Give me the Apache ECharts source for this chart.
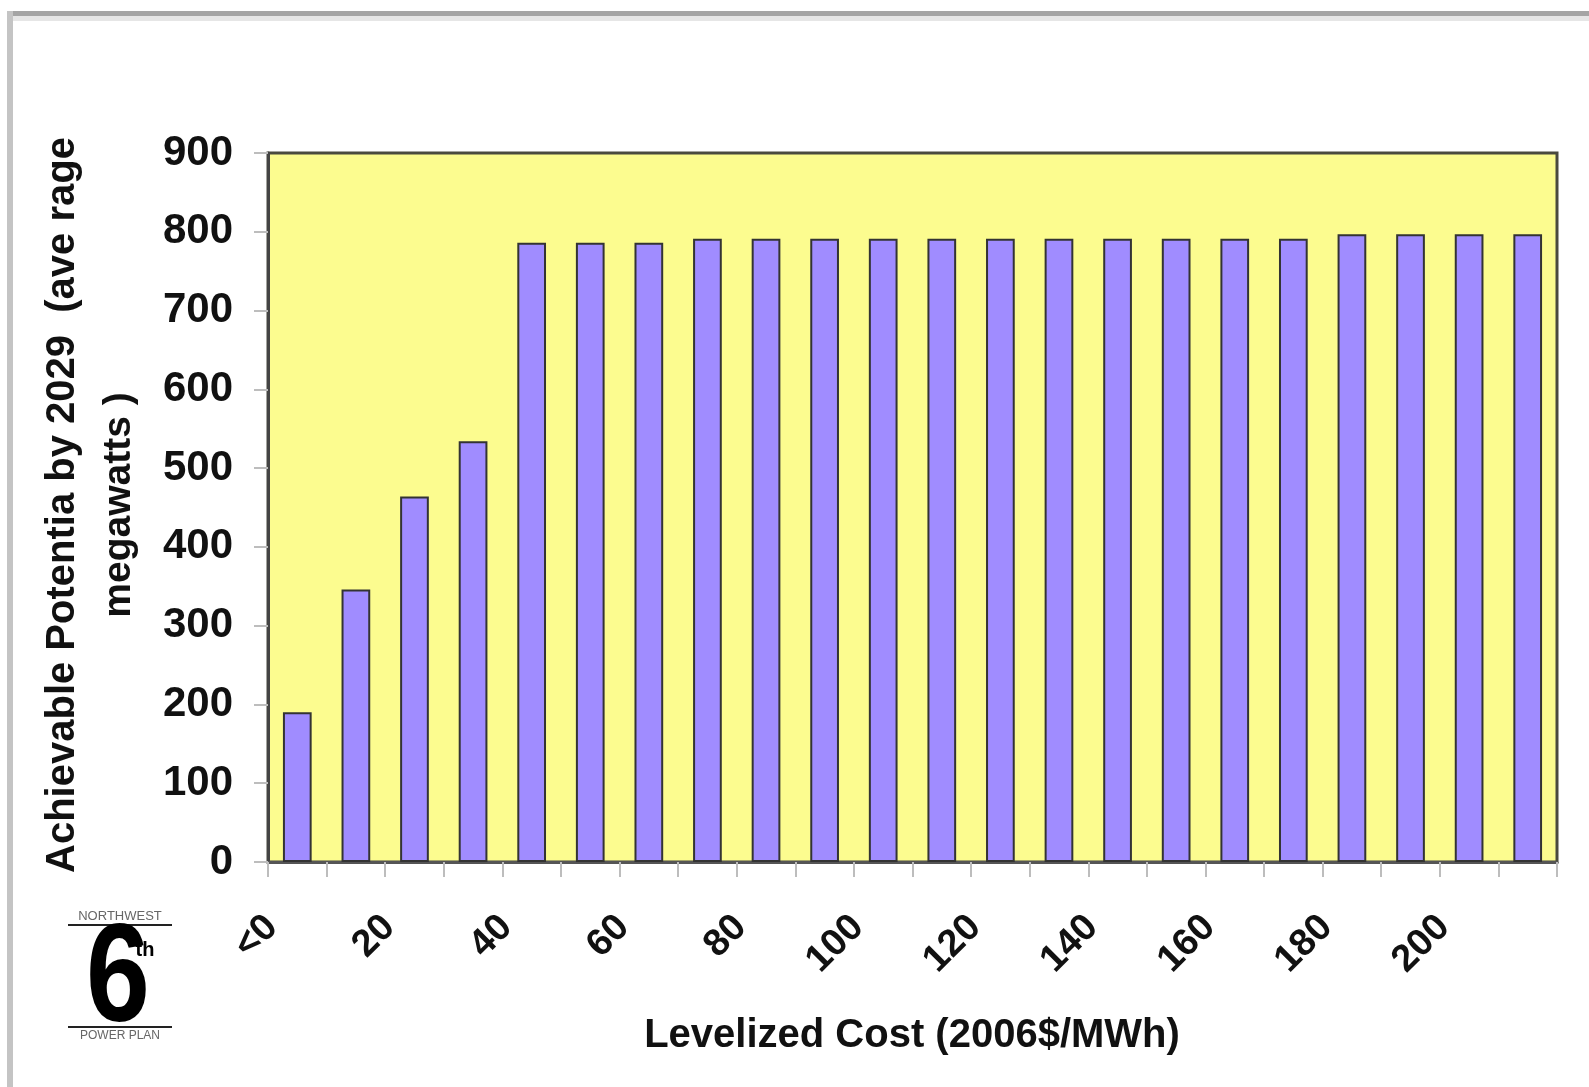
<!DOCTYPE html>
<html>
<head>
<meta charset="utf-8">
<script src="https://cdn.jsdelivr.net/npm/echarts@6/dist/echarts.min.js"></script>
<style>
  html, body { margin: 0; padding: 0; background: #fff; }
  #chart { width: 1589px; height: 1087px; }
</style>
</head>
<body>
<div id="chart"></div>
<script>
// levelized cost bins (2006$/MWh) and achievable potential by 2029 (aMW)
const costBins = ['<0', '10', '20', '30', '40', '50', '60', '70', '80', '90', '100',
                  '110', '120', '130', '140', '150', '160', '170', '180', '190', '200', '210'];
const potential = [190, 346, 464, 534, 786, 786, 786, 791, 791, 791, 791,
                   791, 791, 791, 791, 791, 791, 791, 797, 797, 797, 797];
const yTicks = { min: 0, max: 900, step: 100 };

const FONT = '"Liberation Sans", Arial, sans-serif';

function txt(x, y, text, font, fill, extra) {
  return Object.assign({
    type: 'text', x: x, y: y,
    style: { text: text, font: font, fill: fill,
             align: 'center', verticalAlign: 'middle', textAlign: 'center', textVerticalAlign: 'middle' }
  }, extra || {});
}

const chart = echarts.init(document.getElementById('chart'));
chart.setOption({
  animation: false,
  backgroundColor: '#ffffff',
  grid: {
    left: 268, top: 153, right: 32, bottom: 225,
    show: true, backgroundColor: '#fcfc8f', borderColor: '#4a4a3e', borderWidth: 3
  },
  xAxis: {
    type: 'category',
    data: costBins,
    axisLine: { lineStyle: { color: '#555', width: 3 } },
    axisTick: { show: true, interval: 0, length: 15, lineStyle: { color: '#bdbdbd', width: 2 } },
    axisLabel: {
      interval: 1, rotate: 45, margin: 34,
      padding: [0, 36, 0, 0],
      fontFamily: FONT, fontWeight: 'bold', fontSize: 38, color: '#111'
    },
    splitLine: { show: false }
  },
  yAxis: {
    type: 'value',
    min: yTicks.min, max: yTicks.max, interval: yTicks.step,
    axisLine: { show: true, lineStyle: { color: '#444', width: 3 } },
    axisTick: { show: true, length: 14, lineStyle: { color: '#bdbdbd', width: 2 } },
    axisLabel: { margin: 35, fontFamily: FONT, fontWeight: 'bold', fontSize: 42, color: '#111' },
    splitLine: { show: false }
  },
  series: [{
    type: 'bar',
    data: potential,
    barWidth: '49%',
    itemStyle: { color: '#a08cff', borderColor: '#333', borderWidth: 2 }
  }],
  graphic: [
    // page frame
    { type: 'rect', shape: { x: 7, y: 11, width: 1582, height: 5 }, style: { fill: '#a5a5a5' }, silent: true },
    { type: 'rect', shape: { x: 13, y: 16, width: 1576, height: 5 }, style: { fill: '#e6e6e6' }, silent: true },
    { type: 'rect', shape: { x: 7, y: 11, width: 6, height: 1076 }, style: { fill: '#c4c4c4' }, silent: true },
    // axis titles
    txt(63, 505, 'Achievable Potentia by 2029  (ave rage', 'bold 40px ' + FONT, '#111', { rotation: Math.PI / 2 }),
    txt(119, 505, 'megawatts )', 'bold 39px ' + FONT, '#111', { rotation: Math.PI / 2 }),
    txt(912, 1036, 'Levelized Cost (2006$/MWh)', 'bold 40px ' + FONT, '#111'),
    // logo
    txt(120, 916, 'NORTHWEST', '13px ' + FONT, '#666'),
    { type: 'rect', shape: { x: 68, y: 924, width: 104, height: 2 }, style: { fill: '#222' }, silent: true },
    txt(118, 982, '6', 'bold 140px ' + FONT, '#000', { scaleX: 0.82 }),
    txt(145, 950, 'th', 'bold 20px ' + FONT, '#000'),
    { type: 'rect', shape: { x: 68, y: 1026, width: 104, height: 2 }, style: { fill: '#222' }, silent: true },
    txt(120, 1036, 'POWER PLAN', '12px ' + FONT, '#666')
  ]
});
</script>
</body>
</html>
